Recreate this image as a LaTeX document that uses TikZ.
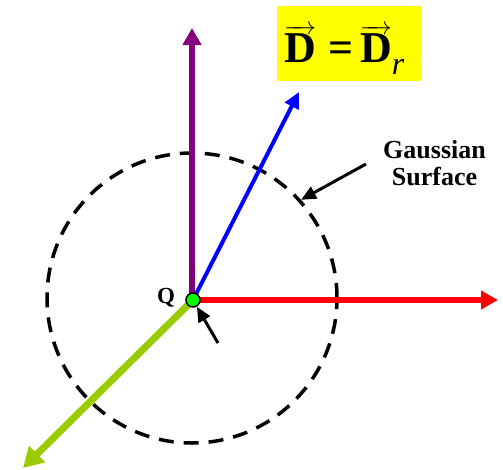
\documentclass[tikz,border=0pt]{standalone}
\usepackage{fontspec}
\setmainfont{Liberation Serif}
\usetikzlibrary{arrows.meta}
\definecolor{vpurple}{RGB}{128,0,128}
\definecolor{vblue}{RGB}{0,0,255}
\definecolor{vred}{RGB}{255,0,0}
\definecolor{vgreen}{RGB}{153,204,0}
\definecolor{vyellow}{RGB}{255,255,0}
\begin{document}
\begin{tikzpicture}[x=1pt,y=-1pt,
  vec/.style={line width=#1, -{Triangle[length=17pt,width=18pt]}},
  lbl/.style={font=\bfseries\fontsize{26}{27}\selectfont, align=center, inner sep=0pt},
  pointer/.style={line width=3pt, -{Triangle[length=15pt,width=13pt]}}]
\useasboundingbox (0,0) rectangle (503,469);
\coordinate (Q) at (193,300);
\node[draw, line width=3.5pt, dash pattern=on 15pt off 10pt, circle, minimum size=290pt, inner sep=0pt] (gs) at (192,298) {};
\coordinate (tp) at (192,28);
\coordinate (tb) at (299,92);
\coordinate (tr) at (498,300);
\coordinate (tg) at (23,468);
\draw[vec=6pt, vpurple] (Q) ++(-1,0) -- (tp);
\draw[line width=4pt, vblue, -{Triangle[length=16pt,width=15pt]}] (Q) -- (tb);
\draw[vec=6pt, vred] (Q) -- (tr);
\draw[line width=7pt, vgreen, -{Triangle[length=20pt,width=22pt]}] (Q) -- (tg);
\node[circle, draw=black, fill=green, line width=1.5pt, minimum size=14pt, inner sep=0pt] (q) at (Q) {};
\node[font=\bfseries\fontsize{23}{24}\selectfont, inner sep=0pt] (ql) at (166,298) {Q};
\coordinate (pa) at (218,343);
\draw[pointer] (pa) -- (q.300);
\node[lbl, anchor=base] (gl) at (434.5,185) {Gaussian\\Surface};
\coordinate (pb) at (366,164);
\draw[pointer] (pb) -- (gs.42);
\node[fill=vyellow, minimum width=144pt, minimum height=75pt, inner sep=0pt] (eqbox) at (349,43.5) {};
\node[anchor=base west, inner sep=0pt] (eq) at (284,62)
  {\fontsize{44}{44}\selectfont\bfseries $\overrightarrow{\hbox{D}}$\hspace{13pt}=\hspace{6pt}$\overrightarrow{\hbox{D}}$\raisebox{-12pt}{\fontsize{32}{32}\selectfont\mdseries\itshape r}};
\end{tikzpicture}
\end{document}
